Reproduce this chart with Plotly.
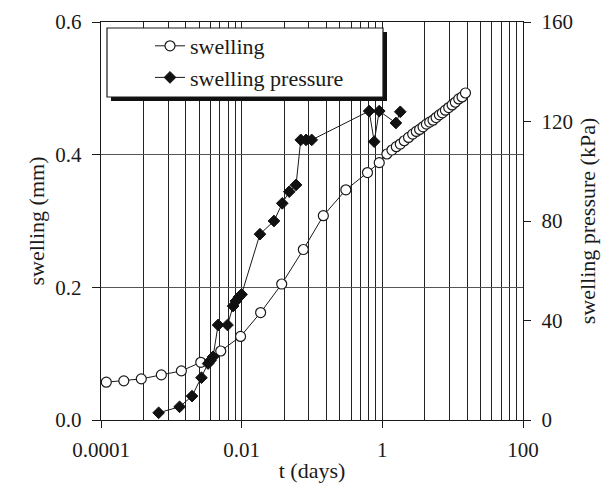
import plotly.graph_objects as go

# ---------------- data ----------------
swell_t = [1.19e-4, 2.11e-4, 3.74e-4, 7.21e-4, 1.39e-3, 2.62e-3, 5.04e-3, 9.64e-3,
           0.0186, 0.0371, 0.0753, 0.145, 0.303, 0.615, 0.904, 1.16, 1.37, 1.58,
           1.80, 2.05, 2.36, 2.70, 3.04, 3.39, 3.79, 4.23, 4.71, 5.26, 5.81, 6.47,
           7.14, 7.88, 8.79, 9.82, 10.9, 12.2, 13.6, 15.2]
swell_mm = [0.057, 0.059, 0.062, 0.068, 0.074, 0.087, 0.104, 0.126,
            0.162, 0.205, 0.257, 0.308, 0.347, 0.373, 0.388, 0.401, 0.407, 0.412,
            0.416, 0.421, 0.426, 0.431, 0.435, 0.438, 0.442, 0.446, 0.449, 0.452,
            0.456, 0.460, 0.463, 0.467, 0.471, 0.475, 0.479, 0.484, 0.487, 0.493]

press_t = [6.6e-4, 1.31e-3, 1.97e-3, 2.68e-3, 3.33e-3, 3.6e-3, 3.92e-3, 4.62e-3,
           6.29e-3, 7.56e-3, 8.26e-3, 9.12e-3, 9.97e-3, 0.0182, 0.0288, 0.0378,
           0.0475, 0.0593, 0.0692, 0.0823, 0.0991, 0.650, 0.767, 0.904, 1.56, 1.80]
press_kpa = [2.9, 5.3, 9.6, 17.0, 22.7, 23.9, 25.4, 38.2,
             38.2, 45.8, 47.8, 49.4, 50.5, 74.7, 80.0, 87.1,
             91.8, 94.5, 112.6, 112.6, 112.6, 124.2, 111.9, 124.2, 119.4, 123.9]

x_major = [1e-4, 1e-2, 1, 100]
x_major_labels = ["0.0001", "0.01", "1", "100"]
y_left_ticks = [0.0, 0.2, 0.4, 0.6]
y_left_labels = ["0.0", "0.2", "0.4", "0.6"]
y_right_ticks = [0, 40, 80, 120, 160]
y_right_labels = ["0", "40", "80", "120", "160"]

# gridlines inside each labelled interval (log spacing of a 2-decade interval)
x_minor = [m * k ** 2 for m in x_major[:-1] for k in range(2, 10)]

# ---------------- layout geometry ----------------
W, H = 614, 483
L, R, T, B = 101, 91, 22, 63
PW, PH = W - L - R, H - T - B
FONT = "Liberation Serif"
INK = "#1a1a1a"


def px_x(px):
    return (px - L) / PW


def px_y(py):
    return (T + PH - py) / PH


fig = go.Figure()
fig.add_trace(go.Scatter(
    x=swell_t, y=swell_mm, name="swelling", mode="lines+markers",
    line=dict(color=INK, width=1),
    marker=dict(symbol="circle", size=10, color="white",
                line=dict(color=INK, width=1.2)),
    yaxis="y"))
fig.add_trace(go.Scatter(
    x=press_t, y=press_kpa, name="swelling pressure", mode="lines+markers",
    line=dict(color=INK, width=1),
    marker=dict(symbol="diamond", size=9, color="#111111",
                line=dict(color="#111111", width=1)),
    yaxis="y2"))

tickfont = dict(family=FONT, size=21, color=INK)
titlefont = dict(family=FONT, size=22, color=INK)

fig.update_layout(
    width=W, height=H,
    margin=dict(l=L, r=R, t=T, b=B, pad=0),
    paper_bgcolor="white", plot_bgcolor="white",
    font=dict(family=FONT, size=21, color=INK),
    xaxis=dict(
        type="log", range=[-4, 2],
        tickmode="array", tickvals=x_major, ticktext=x_major_labels,
        ticks="outside", ticklen=7, tickwidth=1.2, tickcolor=INK,
        ticklabelstandoff=4,
        showgrid=True, gridcolor="#222222", gridwidth=1.4,
        minor=dict(tickmode="array", tickvals=x_minor, showgrid=True,
                   gridcolor="#222222", gridwidth=1.4, ticks=""),
        showline=True, linecolor=INK, linewidth=1.4, mirror=True,
        zeroline=False, tickfont=tickfont,
        title=dict(text="t (days)", font=titlefont, standoff=2),
        automargin=False),
    yaxis=dict(
        range=[0, 0.6], tickmode="array", tickvals=y_left_ticks,
        ticktext=y_left_labels,
        ticks="outside", ticklen=8, tickwidth=1.2, tickcolor=INK,
        ticklabelstandoff=6,
        showgrid=True, gridcolor="#555555", gridwidth=1,
        showline=True, linecolor=INK, linewidth=1.4,
        zeroline=False, tickfont=tickfont,
        title=dict(text="swelling (mm)", font=titlefont, standoff=4),
        automargin=False),
    yaxis2=dict(
        range=[0, 160], overlaying="y", side="right",
        tickmode="array", tickvals=y_right_ticks, ticktext=y_right_labels,
        ticks="outside", ticklen=7, tickwidth=1.2, tickcolor=INK,
        ticklabelstandoff=6,
        showgrid=False, showline=True, linecolor=INK, linewidth=1.4,
        zeroline=False, tickfont=tickfont,
        title=dict(text="swelling pressure (kPa)", font=titlefont, standoff=7),
        automargin=False),
    legend=dict(
        x=px_x(150), y=px_y(25), xanchor="left", yanchor="top",
        bgcolor="rgba(0,0,0,0)", borderwidth=0,
        font=dict(family=FONT, size=22, color=INK),
        itemclick=False, itemdoubleclick=False),
    showlegend=True,
    shapes=[
        # legend shadow and box
        dict(type="rect", xref="paper", yref="paper",
             x0=px_x(111), x1=px_x(387), y0=px_y(101), y1=px_y(32),
             fillcolor="#111111", line=dict(width=0), layer="above"),
        dict(type="rect", xref="paper", yref="paper",
             x0=px_x(107), x1=px_x(383), y0=px_y(97), y1=px_y(28),
             fillcolor="white", line=dict(color=INK, width=1.2), layer="above"),
    ],
)

fig.write_html("out.html")
